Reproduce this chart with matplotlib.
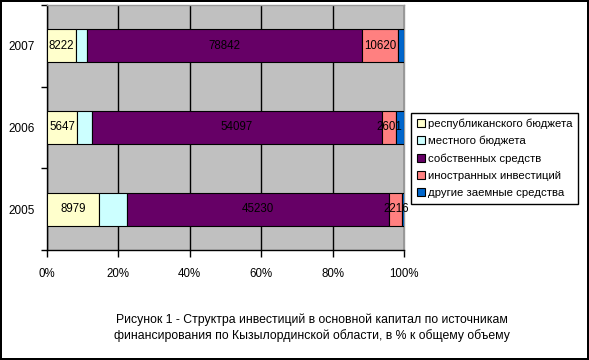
import numpy as np
import matplotlib
matplotlib.use("Agg")
import matplotlib.pyplot as plt

plt.rcParams['font.family'] = ['Liberation Sans', 'DejaVu Sans']

# ---------- DATA ----------
years = ["2005", "2006", "2007"]
series = ["республиканского бюджета", "местного бюджета", "собственных средств",
          "иностранных инвестиций", "другие заемные средства"]
# absolute values, mln tenge (unlabelled parts)
republican = [8979, 5647, 8222]
local = [4800, 2700, 3400]
own = [45230, 54097, 78842]
foreign = [2216, 2601, 10620]
other = [300, 1500, 1600]
labelled = [True, False, True, True, False]

colors = ["#FFFFCC", "#CCFFFF", "#660066", "#FF8080", "#0066CC"]
caption = ("Рисунок 1 - Структра инвестиций в основной капитал по источникам\n"
           "финансирования по Кызылординской области, в % к общему объему")

# ---------- PLOT ----------
values = np.array([republican, local, own, foreign, other], dtype=float)
shares = values / values.sum(axis=0) * 100

fig = plt.figure(figsize=(5.89, 3.6), dpi=100)
fig.patch.set_facecolor("white")
fig.patch.set_edgecolor("black")
fig.patch.set_linewidth(1.5)

ax = fig.add_axes([47 / 589, 1 - 250 / 360, 357 / 589, 245 / 360])
ax.set_facecolor("#C0C0C0")

y = np.arange(len(years))
left = np.zeros(len(years))
for i, name in enumerate(series):
    ax.barh(y, shares[i], left=left, height=0.4, color=colors[i],
            edgecolor="black", linewidth=0.8, label=name, zorder=3)
    if labelled[i]:
        for j in range(len(years)):
            ax.text(left[j] + shares[i][j] / 2, y[j], f"{int(values[i][j])}",
                    ha="center", va="center", fontsize=8.3, color="black", zorder=4)
    left += shares[i]

ax.set_xlim(0, 100)
ax.set_ylim(-0.5, 2.5)
ax.set_xticks(np.arange(0, 101, 20))
ax.set_xticklabels([f"{v}%" for v in range(0, 101, 20)], fontsize=8.3)
ax.set_yticks(y)
ax.set_yticklabels(years, fontsize=8.5)
ax.tick_params(axis="y", length=0, pad=9)
ax.set_yticks([-0.5, 0.5, 1.5, 2.5], minor=True)
ax.tick_params(axis="y", which="minor", length=4, width=1, color="black")
ax.tick_params(axis="x", length=5, width=1, color="black", pad=8)
ax.grid(axis="x", color="black", linewidth=1, zorder=1)

for side in ["left", "bottom"]:
    ax.spines[side].set_color("black")
    ax.spines[side].set_linewidth(1)
for side in ["top", "right"]:
    ax.spines[side].set_color("#999999")
    ax.spines[side].set_linewidth(1)

leg = ax.legend(loc="upper left", bbox_to_anchor=(1.02, 0.56), fontsize=8.2,
                frameon=True, fancybox=False, edgecolor="black", framealpha=1,
                handlelength=0.7, handleheight=0.7, handletextpad=0.3,
                labelspacing=0.62, borderpad=0.5, borderaxespad=0)
leg.get_frame().set_linewidth(1)

fig.text(312 / 589, 1 - 328 / 360, caption, ha="center", va="center",
         fontsize=8.8, linespacing=1.35)

fig.savefig("out.png", dpi=100)
